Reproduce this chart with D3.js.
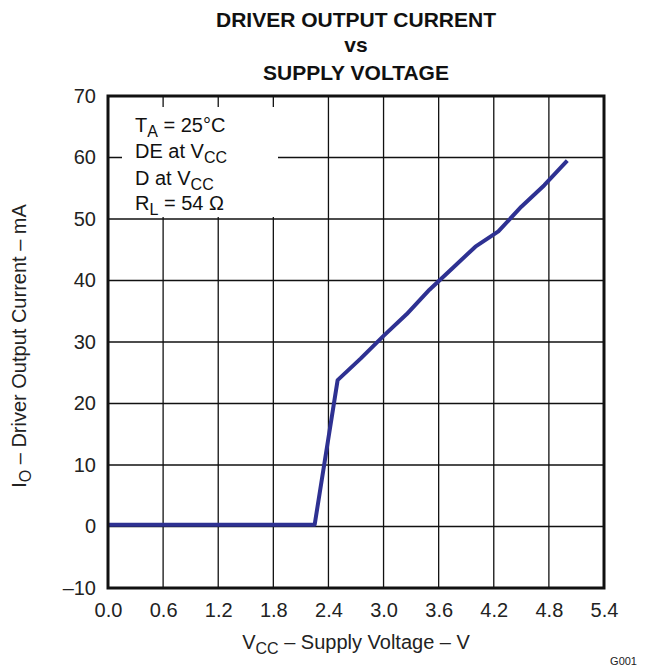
<!DOCTYPE html>
<html>
<head>
<meta charset="utf-8">
<script src="https://cdn.jsdelivr.net/npm/d3@7"></script>
<style>
  body { margin: 0; background: #fff; }
  svg { font-family: "Liberation Sans", Arial, sans-serif; }
</style>
</head>
<body>
<div id="chart"></div>
<script>
let width = 645;
let height = 669;
let margin = { left: 108, right: 41, top: 96, bottom: 81 };

// curve: supply voltage (V) vs output current (mA)
let vcc = [0.0, 2.25, 2.5, 2.75, 3.0, 3.25, 3.5, 3.75, 4.0, 4.25, 4.5, 4.75, 5.0];
let current = [0.3, 0.3, 23.8, 27.3, 31.0, 34.5, 38.5, 42.0, 45.5, 48.0, 52.0, 55.5, 59.5];
let xTicks = [0.0, 0.6, 1.2, 1.8, 2.4, 3.0, 3.6, 4.2, 4.8, 5.4];
let yTicks = [-10, 0, 10, 20, 30, 40, 50, 60, 70];
let titleLines = ["DRIVER OUTPUT CURRENT", "vs", "SUPPLY VOLTAGE"];

let svg = d3.select("#chart")
  .append("svg")
  .attr("width", width)
  .attr("height", height);

let x = d3.scaleLinear()
  .domain([0, 5.4])
  .range([margin.left, width - margin.right]);
let y = d3.scaleLinear()
  .domain([-10, 70])
  .range([height - margin.bottom, margin.top]);

// gridlines
svg.append("g")
  .selectAll("line")
  .data(xTicks)
  .enter()
  .append("line")
  .attr("x1", d => x(d)).attr("x2", d => x(d))
  .attr("y1", y(-10)).attr("y2", y(70))
  .attr("stroke", "#111")
  .attr("stroke-width", 1.3);

svg.append("g")
  .selectAll("line")
  .data(yTicks)
  .enter()
  .append("line")
  .attr("x1", x(0)).attr("x2", x(5.4))
  .attr("y1", d => y(d)).attr("y2", d => y(d))
  .attr("stroke", "#111")
  .attr("stroke-width", 1.3);

// condition box covers the grid behind it
svg.append("rect")
  .attr("x", 122)
  .attr("y", 107)
  .attr("width", 156)
  .attr("height", 110)
  .attr("fill", "#fff");

let notes = svg.append("g")
  .attr("font-size", 20)
  .attr("fill", "#111");

function note(yy, main, sub, rest) {
  let t = notes.append("text").attr("x", 135).attr("y", yy);
  t.append("tspan").text(main);
  if (sub) t.append("tspan").attr("font-size", 16).attr("dy", 5).text(sub);
  if (rest) t.append("tspan").attr("dy", sub ? -5 : 0).text(rest);
}
note(132, "T", "A", " = 25°C");
note(158, "DE at V", "CC");
note(185, "D at V", "CC");
note(210, "R", "L", " = 54 Ω");

// curve
let line = d3.line()
  .x(d => x(d[0]))
  .y(d => y(d[1]));

svg.append("path")
  .datum(vcc.map((v, i) => [v, current[i]]))
  .attr("d", line)
  .attr("fill", "none")
  .attr("stroke", "#2e3192")
  .attr("stroke-width", 4)
  .attr("stroke-linejoin", "round");

// frame
svg.append("rect")
  .attr("x", x(0))
  .attr("y", y(70))
  .attr("width", x(5.4) - x(0))
  .attr("height", y(-10) - y(70))
  .attr("fill", "none")
  .attr("stroke", "#111")
  .attr("stroke-width", 3);

// axes (labels only)
svg.append("g")
  .attr("transform", `translate(0, ${y(-10)})`)
  .call(d3.axisBottom(x).tickValues(xTicks).tickFormat(d3.format(".1f")).tickSize(0).tickPadding(14.5))
  .call(g => g.select(".domain").remove())
  .selectAll("text")
  .attr("font-size", 20)
  .attr("font-family", "Liberation Sans, Arial, sans-serif")
  .attr("fill", "#222");

svg.append("g")
  .attr("transform", `translate(${x(0)}, 0)`)
  .call(d3.axisLeft(y).tickValues(yTicks).tickFormat(d => d < 0 ? "\u2013" + Math.abs(d) : d).tickSize(0).tickPadding(12))
  .call(g => g.select(".domain").remove())
  .selectAll("text")
  .attr("font-size", 20)
  .attr("font-family", "Liberation Sans, Arial, sans-serif")
  .attr("fill", "#222");

// titles
svg.append("g")
  .selectAll("text")
  .data(titleLines)
  .enter()
  .append("text")
  .attr("x", (x(0) + x(5.4)) / 2)
  .attr("y", (d, i) => [27, 52, 80][i])
  .attr("text-anchor", "middle")
  .attr("font-size", 21)
  .attr("font-weight", "bold")
  .attr("fill", "#111")
  .text(d => d);

let xt = svg.append("text")
  .attr("x", (x(0) + x(5.4)) / 2)
  .attr("y", 649)
  .attr("text-anchor", "middle")
  .attr("font-size", 20)
  .attr("fill", "#222");
xt.append("tspan").text("V");
xt.append("tspan").attr("font-size", 16).attr("dy", 5).text("CC");
xt.append("tspan").attr("dy", -5).text(" – Supply Voltage – V");

let yt = svg.append("text")
  .attr("transform", `translate(26, 346) rotate(-90)`)
  .attr("text-anchor", "middle")
  .attr("font-size", 20)
  .attr("fill", "#222");
yt.append("tspan").text("I");
yt.append("tspan").attr("font-size", 16).attr("dy", 5).text("O");
yt.append("tspan").attr("dy", -5).text(" – Driver Output Current – mA");

svg.append("text")
  .attr("x", 637)
  .attr("y", 665)
  .attr("text-anchor", "end")
  .attr("font-size", 11)
  .attr("fill", "#222")
  .text("G001");
</script>
</body>
</html>
